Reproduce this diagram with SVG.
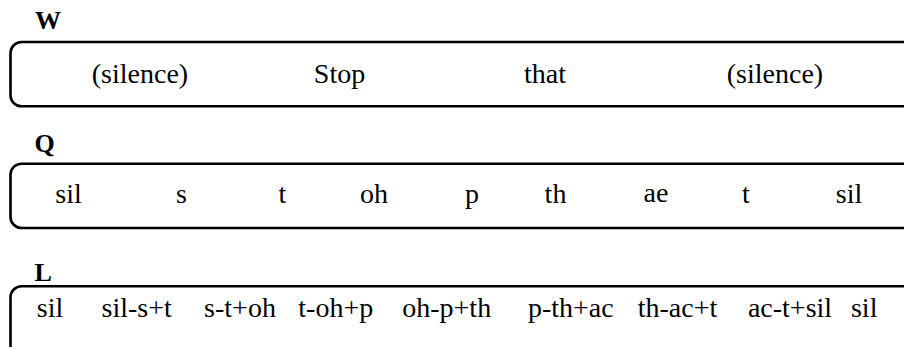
<svg xmlns="http://www.w3.org/2000/svg" width="904" height="347" viewBox="0 0 904 347">
  <style>
    .band { fill: #ffffff; stroke: #000000; stroke-width: 2.6; }
    .lbl { font-size: 26px; font-weight: bold; fill: #000; }
    .tok { font-size: 28px; fill: #000; text-anchor: middle; }
  </style>
  <rect width="904" height="347" fill="#ffffff"/>

  <g font-family="'Liberation Serif', 'Times New Roman', Times, 'DejaVu Serif', serif">
  <!-- word level -->
  <g id="row-W">
    <text class="lbl" x="35" y="29">W</text>
    <rect class="band" x="10.5" y="42" width="920" height="64.3" rx="11" ry="11"/>
    <text class="tok" x="140" y="83">(silence)</text>
    <text class="tok" x="339.5" y="83">Stop</text>
    <text class="tok" x="545" y="83">that</text>
    <text class="tok" x="775" y="83">(silence)</text>
  </g>

  <!-- phone level -->
  <g id="row-Q">
    <text class="lbl" x="34.5" y="151.5">Q</text>
    <rect class="band" x="10.5" y="163.7" width="920" height="64.3" rx="11" ry="11"/>
    <text class="tok" x="68.5" y="203.3">sil</text>
    <text class="tok" x="181.5" y="203.3">s</text>
    <text class="tok" x="282.5" y="203.3">t</text>
    <text class="tok" x="374" y="203.3">oh</text>
    <text class="tok" x="472" y="203.3">p</text>
    <text class="tok" x="555.5" y="203.3">th</text>
    <text class="tok" x="656" y="201.7">ae</text>
    <text class="tok" x="746" y="203.3">t</text>
    <text class="tok" x="849" y="203.3">sil</text>
  </g>

  <!-- triphone level -->
  <g id="row-L">
    <text class="lbl" x="34.5" y="281">L</text>
    <rect class="band" x="10.5" y="286.3" width="920" height="90" rx="11" ry="11"/>
    <text class="tok" x="50" y="317.3">sil</text>
    <text class="tok" x="136.7" y="317.3">sil-s+t</text>
    <text class="tok" x="240" y="317.3">s-t+oh</text>
    <text class="tok" x="335.8" y="317.3">t-oh+p</text>
    <text class="tok" x="446.7" y="317.3">oh-p+th</text>
    <text class="tok" x="570.8" y="317.3">p-th+ac</text>
    <text class="tok" x="677.5" y="317.3">th-ac+t</text>
    <text class="tok" x="790" y="317.3">ac-t+sil</text>
    <text class="tok" x="864.2" y="317.3">sil</text>
  </g>
  </g>
</svg>
